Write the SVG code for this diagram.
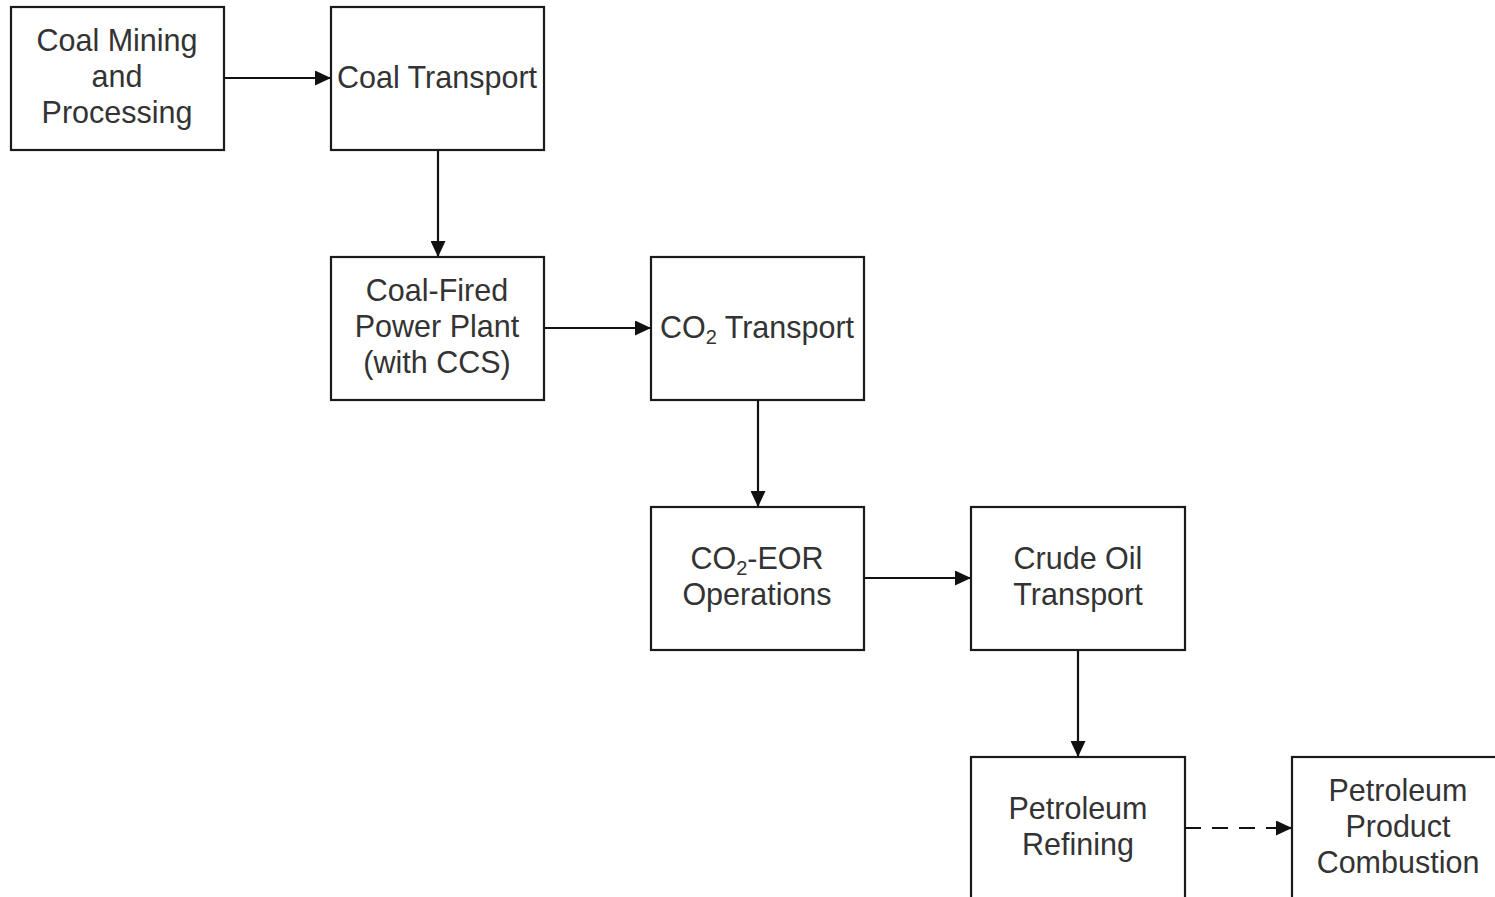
<svg xmlns="http://www.w3.org/2000/svg" width="1495" height="897" viewBox="0 0 1495 897">
<defs>
<style>
.box{fill:#fff;stroke:#1a1a1a;stroke-width:2.2}
.t{font-family:"Liberation Sans",Arial,sans-serif;font-size:30.5px;fill:#333;text-anchor:middle}
.sub{font-size:20px}
.c{stroke:#111;stroke-width:2.2;fill:none}
.d{stroke-dasharray:16 11}
</style>
<marker id="ah" viewBox="0 0 16 15" refX="16" refY="7.5" markerWidth="16" markerHeight="15" markerUnits="userSpaceOnUse" orient="auto">
<path d="M0,0 L16,7.5 L0,15 Z" fill="#111"/>
</marker>
</defs>
<rect width="1495" height="897" fill="#fff"/>
<g id="connectors">
<line class="c" x1="224" y1="78" x2="331" y2="78" marker-end="url(#ah)"/>
<line class="c" x1="438" y1="150" x2="438" y2="257" marker-end="url(#ah)"/>
<line class="c" x1="544" y1="328" x2="651" y2="328" marker-end="url(#ah)"/>
<line class="c" x1="758" y1="400" x2="758" y2="507" marker-end="url(#ah)"/>
<line class="c" x1="864" y1="578" x2="971" y2="578" marker-end="url(#ah)"/>
<line class="c" x1="1078" y1="650" x2="1078" y2="757" marker-end="url(#ah)"/>
<line class="c d" x1="1185" y1="828" x2="1278" y2="828"/>
<line class="c" x1="1274" y1="828" x2="1292" y2="828" marker-end="url(#ah)"/>
</g>
<g id="coal-mining">
<rect class="box" x="11" y="7" width="213" height="143"/>
<text class="t" x="117" y="51">Coal Mining</text>
<text class="t" x="117" y="87">and</text>
<text class="t" x="117" y="123">Processing</text>
</g>
<g id="coal-transport">
<rect class="box" x="331" y="7" width="213" height="143"/>
<text class="t" x="437" y="88">Coal Transport</text>
</g>
<g id="power-plant">
<rect class="box" x="331" y="257" width="213" height="143"/>
<text class="t" x="437" y="301">Coal-Fired</text>
<text class="t" x="437" y="337">Power Plant</text>
<text class="t" x="437" y="373">(with CCS)</text>
</g>
<g id="co2-transport">
<rect class="box" x="651" y="257" width="213" height="143"/>
<text class="t" x="757" y="338">CO<tspan class="sub" dy="6">2</tspan><tspan dy="-6"> Transport</tspan></text>
</g>
<g id="co2-eor">
<rect class="box" x="651" y="507" width="213" height="143"/>
<text class="t" x="757" y="569">CO<tspan class="sub" dy="6">2</tspan><tspan dy="-6">-EOR</tspan></text>
<text class="t" x="757" y="605">Operations</text>
</g>
<g id="crude-oil-transport">
<rect class="box" x="971" y="507" width="214" height="143"/>
<text class="t" x="1078" y="569">Crude Oil</text>
<text class="t" x="1078" y="605">Transport</text>
</g>
<g id="petroleum-refining">
<rect class="box" x="971" y="757" width="214" height="150"/>
<text class="t" x="1078" y="819">Petroleum</text>
<text class="t" x="1078" y="855">Refining</text>
</g>
<g id="petroleum-combustion">
<rect class="box" x="1292" y="757" width="213" height="150"/>
<text class="t" x="1398" y="801">Petroleum</text>
<text class="t" x="1398" y="837">Product</text>
<text class="t" x="1398" y="873">Combustion</text>
</g>
</svg>
